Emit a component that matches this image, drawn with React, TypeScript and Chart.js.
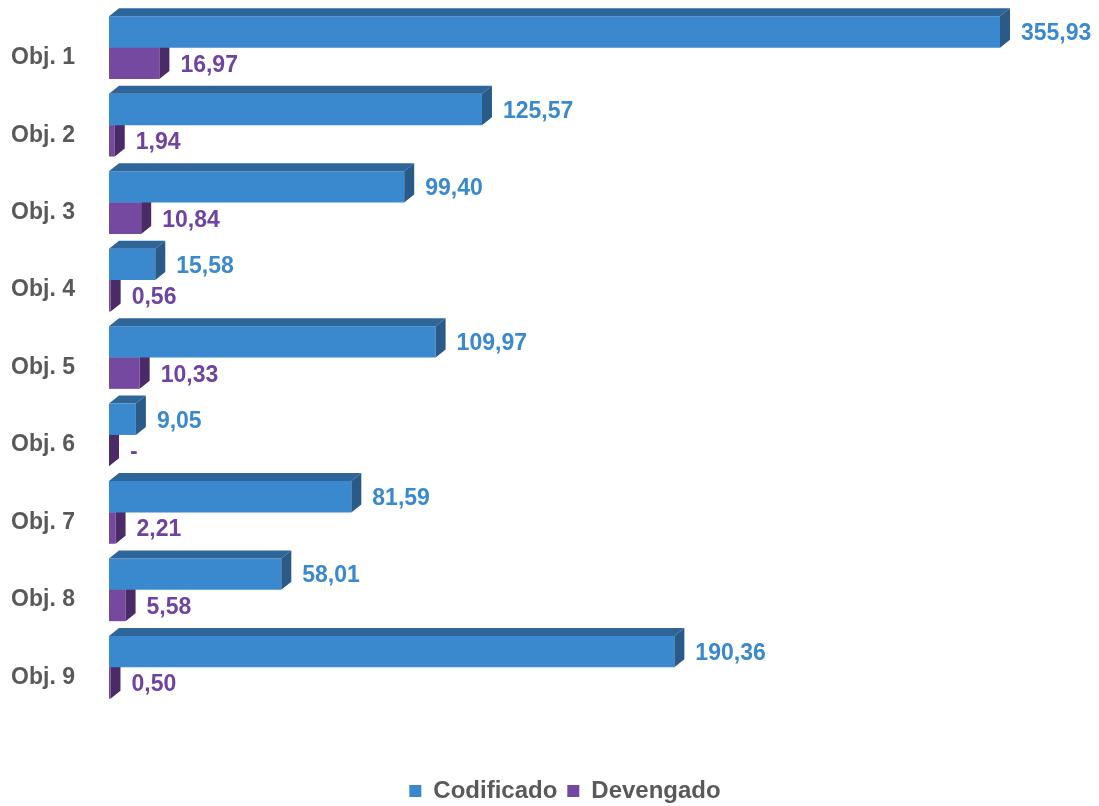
import { useEffect, useRef } from "react";
import { Chart, registerables } from "chart.js";

Chart.register(...registerables);

const categories = ["Obj. 1", "Obj. 2", "Obj. 3", "Obj. 4", "Obj. 5", "Obj. 6", "Obj. 7", "Obj. 8", "Obj. 9"];
const codificado = [355.93, 125.57, 99.4, 15.58, 109.97, 9.05, 81.59, 58.01, 190.36];
const devengado = [16.97, 1.94, 10.84, 0.56, 10.33, 0, 2.21, 5.58, 0.5];
const seriesNames = ["Codificado", "Devengado"];
const axisMax = 300;

const FONT = "'Liberation Sans', Arial, sans-serif";
const frontColors = ["#3A88CD", "#7649A0"];
const topColors = ["#2E6699", "#5A3580"];
const sideColors = ["#2A5A87", "#4A2B68"];
const labelColors = ["#3A88CD", "#6F43A0"];
const textGray = "#595959";
const DX = 10;
const DY = 8;

const fmt = (v: number) => (v === 0 ? "-" : v.toFixed(2).replace(".", ","));

const bar3d = {
  id: "bar3d",
  afterDatasetDraw(chart: any, args: any) {
    const idx = args.index;
    const meta = args.meta;
    const ctx = chart.ctx;
    const area = chart.chartArea;
    ctx.save();
    meta.data.forEach((el: any) => {
      const p = el.getProps(["x", "y", "base", "height"], true);
      const left = Math.min(p.base, p.x);
      const right = Math.min(Math.max(p.base, p.x), area.right);
      const top = p.y - p.height / 2;
      const bottom = p.y + p.height / 2;
      ctx.fillStyle = topColors[idx];
      ctx.beginPath();
      ctx.moveTo(left, top);
      ctx.lineTo(left + DX, top - DY);
      ctx.lineTo(right + DX, top - DY);
      ctx.lineTo(right, top);
      ctx.closePath();
      ctx.fill();
      ctx.fillStyle = sideColors[idx];
      ctx.beginPath();
      ctx.moveTo(right, top);
      ctx.lineTo(right + DX, top - DY);
      ctx.lineTo(right + DX, bottom - DY);
      ctx.lineTo(right, bottom);
      ctx.closePath();
      ctx.fill();
    });
    ctx.restore();
  },
  afterDatasetsDraw(chart: any) {
    const ctx = chart.ctx;
    const area = chart.chartArea;
    ctx.save();
    ctx.font = `bold 23px ${FONT}`;
    ctx.textAlign = "left";
    ctx.textBaseline = "middle";
    chart.data.datasets.forEach((ds: any, di: number) => {
      const meta = chart.getDatasetMeta(di);
      meta.data.forEach((el: any, i: number) => {
        const p = el.getProps(["x", "y"], true);
        const right = Math.min(p.x, area.right);
        ctx.fillStyle = labelColors[di];
        ctx.fillText(fmt(ds.data[i]), right + 21, p.y + 2);
      });
    });
    ctx.restore();
  },
};

export default function App() {
  const ref = useRef<HTMLCanvasElement | null>(null);
  useEffect(() => {
    if (!ref.current) return;
    const chart = new Chart(ref.current, {
      type: "bar",
      data: {
        labels: categories,
        datasets: [
          {
            label: seriesNames[0],
            data: codificado,
            backgroundColor: frontColors[0],
            borderWidth: 0,
            categoryPercentage: 0.81,
            barPercentage: 1,
          },
          {
            label: seriesNames[1],
            data: devengado,
            backgroundColor: frontColors[1],
            borderWidth: 0,
            categoryPercentage: 0.81,
            barPercentage: 1,
          },
        ],
      },
      options: {
        indexAxis: "y",
        responsive: false,
        animation: false,
        layout: { padding: { top: 9, right: -31, left: 0, bottom: -7 } },
        scales: {
          x: {
            min: 0,
            max: axisMax,
            display: true,
            grid: { display: false },
            border: { display: false },
            ticks: { display: false },
            afterFit: (s: any) => {
              s.height = 63;
              s.paddingLeft = 0;
              s.paddingRight = 0;
            },
          },
          y: {
            grid: { display: false, drawTicks: false },
            border: { display: false },
            ticks: {
              color: textGray,
              font: { family: FONT, size: 23, weight: "bold" },
              padding: 34,
              labelOffset: 10,
            },
            afterFit: (s: any) => {
              s.width = 109;
              s.paddingTop = 0;
              s.paddingBottom = 0;
            },
          },
          yRight: {
            type: "linear",
            position: "right",
            display: true,
            grid: { display: false },
            border: { display: false },
            ticks: { display: false },
            afterFit: (s: any) => {
              s.width = 130;
              s.paddingTop = 0;
              s.paddingBottom = 0;
            },
          },
        },
        plugins: {
          legend: {
            position: "bottom",
            labels: {
              color: textGray,
              font: { family: FONT, size: 24, weight: "bold" },
              boxWidth: 12,
              boxHeight: 12,
              padding: 10,
            },
          },
          tooltip: { enabled: false },
        },
      },
      plugins: [bar3d],
    });
    return () => chart.destroy();
  }, []);
  return (
    <canvas
      ref={ref}
      width={1099}
      height={806}
      style={{ position: "absolute", left: 0, top: 0, display: "block" }}
    />
  );
}
